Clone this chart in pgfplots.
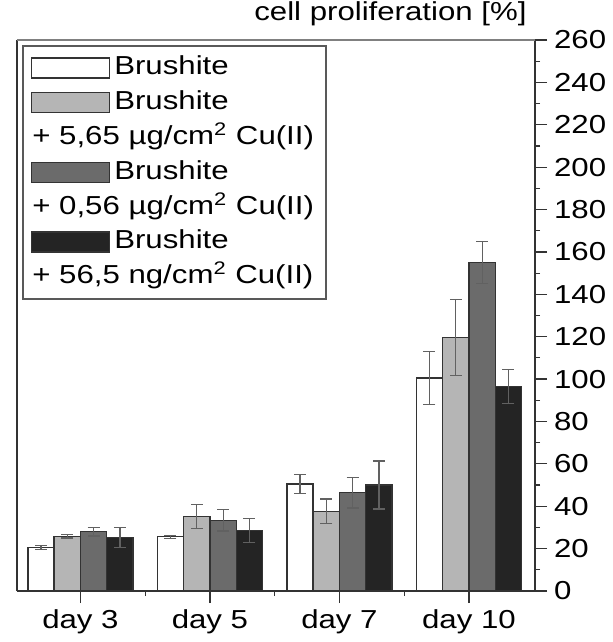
\documentclass[border=0pt]{standalone}
\usepackage{fontspec}
\setmainfont{Liberation Sans}[FakeStretch=1.2]
\usepackage{pgfplots}
\usepackage{pgfplotstable}
\pgfplotsset{compat=1.18}

\definecolor{barlight}{gray}{0.71}
\definecolor{barmid}{gray}{0.42}
\definecolor{bardark}{gray}{0.14}
\definecolor{edge}{gray}{0.2}
\definecolor{errc}{gray}{0.38}

% cell proliferation [%] per day, mean and error
\pgfplotstableread{
x y err
1 20.5 1.0
2 25.6 0.7
3 50.4 4.5
4 100.5 12.5
}\tblwhite
\pgfplotstableread{
x y err
1 25.8 0.8
2 35.2 5.8
3 37.6 5.8
4 119.5 18
}\tbllight
\pgfplotstableread{
x y err
1 28.0 2.0
2 33.3 5.0
3 46.4 7.2
4 155.0 10
}\tblmid
\pgfplotstableread{
x y err
1 25.3 4.6
2 28.6 5.6
3 50.0 11.3
4 96.5 8.0
}\tbldark

% bars of one group sit side by side; each series is offset from the day
\pgfplotsset{
  legendbox/.style={legend image code/.code={\draw[##1] (0pt,-5pt) rectangle (39pt,5pt);}},
  barstyle/.style={ybar, bar width=13.15pt, bar shift=0pt, draw=edge, line width=0.7pt,
    error bars/y dir=both, error bars/y explicit,
    error bars/error bar style={errc, line width=0.6pt},
    error bars/error mark options={rotate=90, errc, mark size=3pt, line width=0.6pt}},
}

\begin{document}
\begin{tikzpicture}[font=\fontsize{13}{15.6}\selectfont]
\begin{axis}[
  name=ax,
  scale only axis, width=259pt, height=275.5pt,
  xmin=0.51, xmax=4.51, ymin=0, ymax=260,
  axis x line*=bottom, axis y line*=right,
  axis line style={edge, line width=0.9pt},
  xtick={1,2,3,4}, xticklabels={day 3, day 5, day 7, day 10},
  minor xtick={1.5,2.5,3.5},
  ytick distance=20, minor y tick num=1,
  tick align=outside,
  major tick length=6pt, minor tick length=2.5pt,
  tick style={edge, line width=0.6pt},
  /pgf/number format/assume math mode=true,
  title={cell proliferation [\%]},
  title style={at={(1,1)}, anchor=base east, inner sep=0pt, xshift=-4pt, yshift=4pt},
  legend style={at={(0,1)}, anchor=north west, xshift=2.5pt, yshift=-2.5pt,
    draw=gray!70!black, line width=0.9pt, inner sep=4pt, row sep=3.4pt,
    nodes={inner xsep=2pt, inner ysep=0.5pt, text height=10pt, text depth=3pt}},
  legend cell align=left,
  clip=false,
]
\addlegendimage{legendbox, fill=white, draw=edge, line width=0.7pt}
\addlegendimage{legendbox, fill=barlight, draw=edge, line width=0.7pt}
\addlegendimage{empty legend}
\addlegendimage{legendbox, fill=barmid, draw=edge, line width=0.7pt}
\addlegendimage{empty legend}
\addlegendimage{legendbox, fill=bardark, draw=edge, line width=0.7pt}
\addlegendimage{empty legend}

\addplot[barstyle, fill=white, forget plot]
  table[x expr=\thisrow{x}-0.3047, y=y, y error=err] {\tblwhite};
\addplot[barstyle, fill=barlight, forget plot]
  table[x expr=\thisrow{x}-0.1016, y=y, y error=err] {\tbllight};
\addplot[barstyle, fill=barmid, forget plot]
  table[x expr=\thisrow{x}+0.1016, y=y, y error=err] {\tblmid};
\addplot[barstyle, fill=bardark, forget plot]
  table[x expr=\thisrow{x}+0.3047, y=y, y error=err] {\tbldark};

% left spine and top edge of the frame
\draw[edge, line width=1.3pt] (rel axis cs:0,0) -- (rel axis cs:0,1);
\draw[gray, line width=0.6pt] (rel axis cs:0,1) -- (rel axis cs:1,1);

\legend{Brushite, Brushite,
  {\hspace*{-41pt}+ 5,65 µg/cm\textsuperscript{2} Cu(II)},
  Brushite,
  {\hspace*{-41pt}+ 0,56 µg/cm\textsuperscript{2} Cu(II)},
  Brushite,
  {\hspace*{-41pt}+ 56,5 ng/cm\textsuperscript{2} Cu(II)}}
\end{axis}
\path ([shift={(-8.5pt,-25.5pt)}]ax.south west) rectangle ([shift={(298pt,295.5pt)}]ax.south west);
\end{tikzpicture}
\end{document}
